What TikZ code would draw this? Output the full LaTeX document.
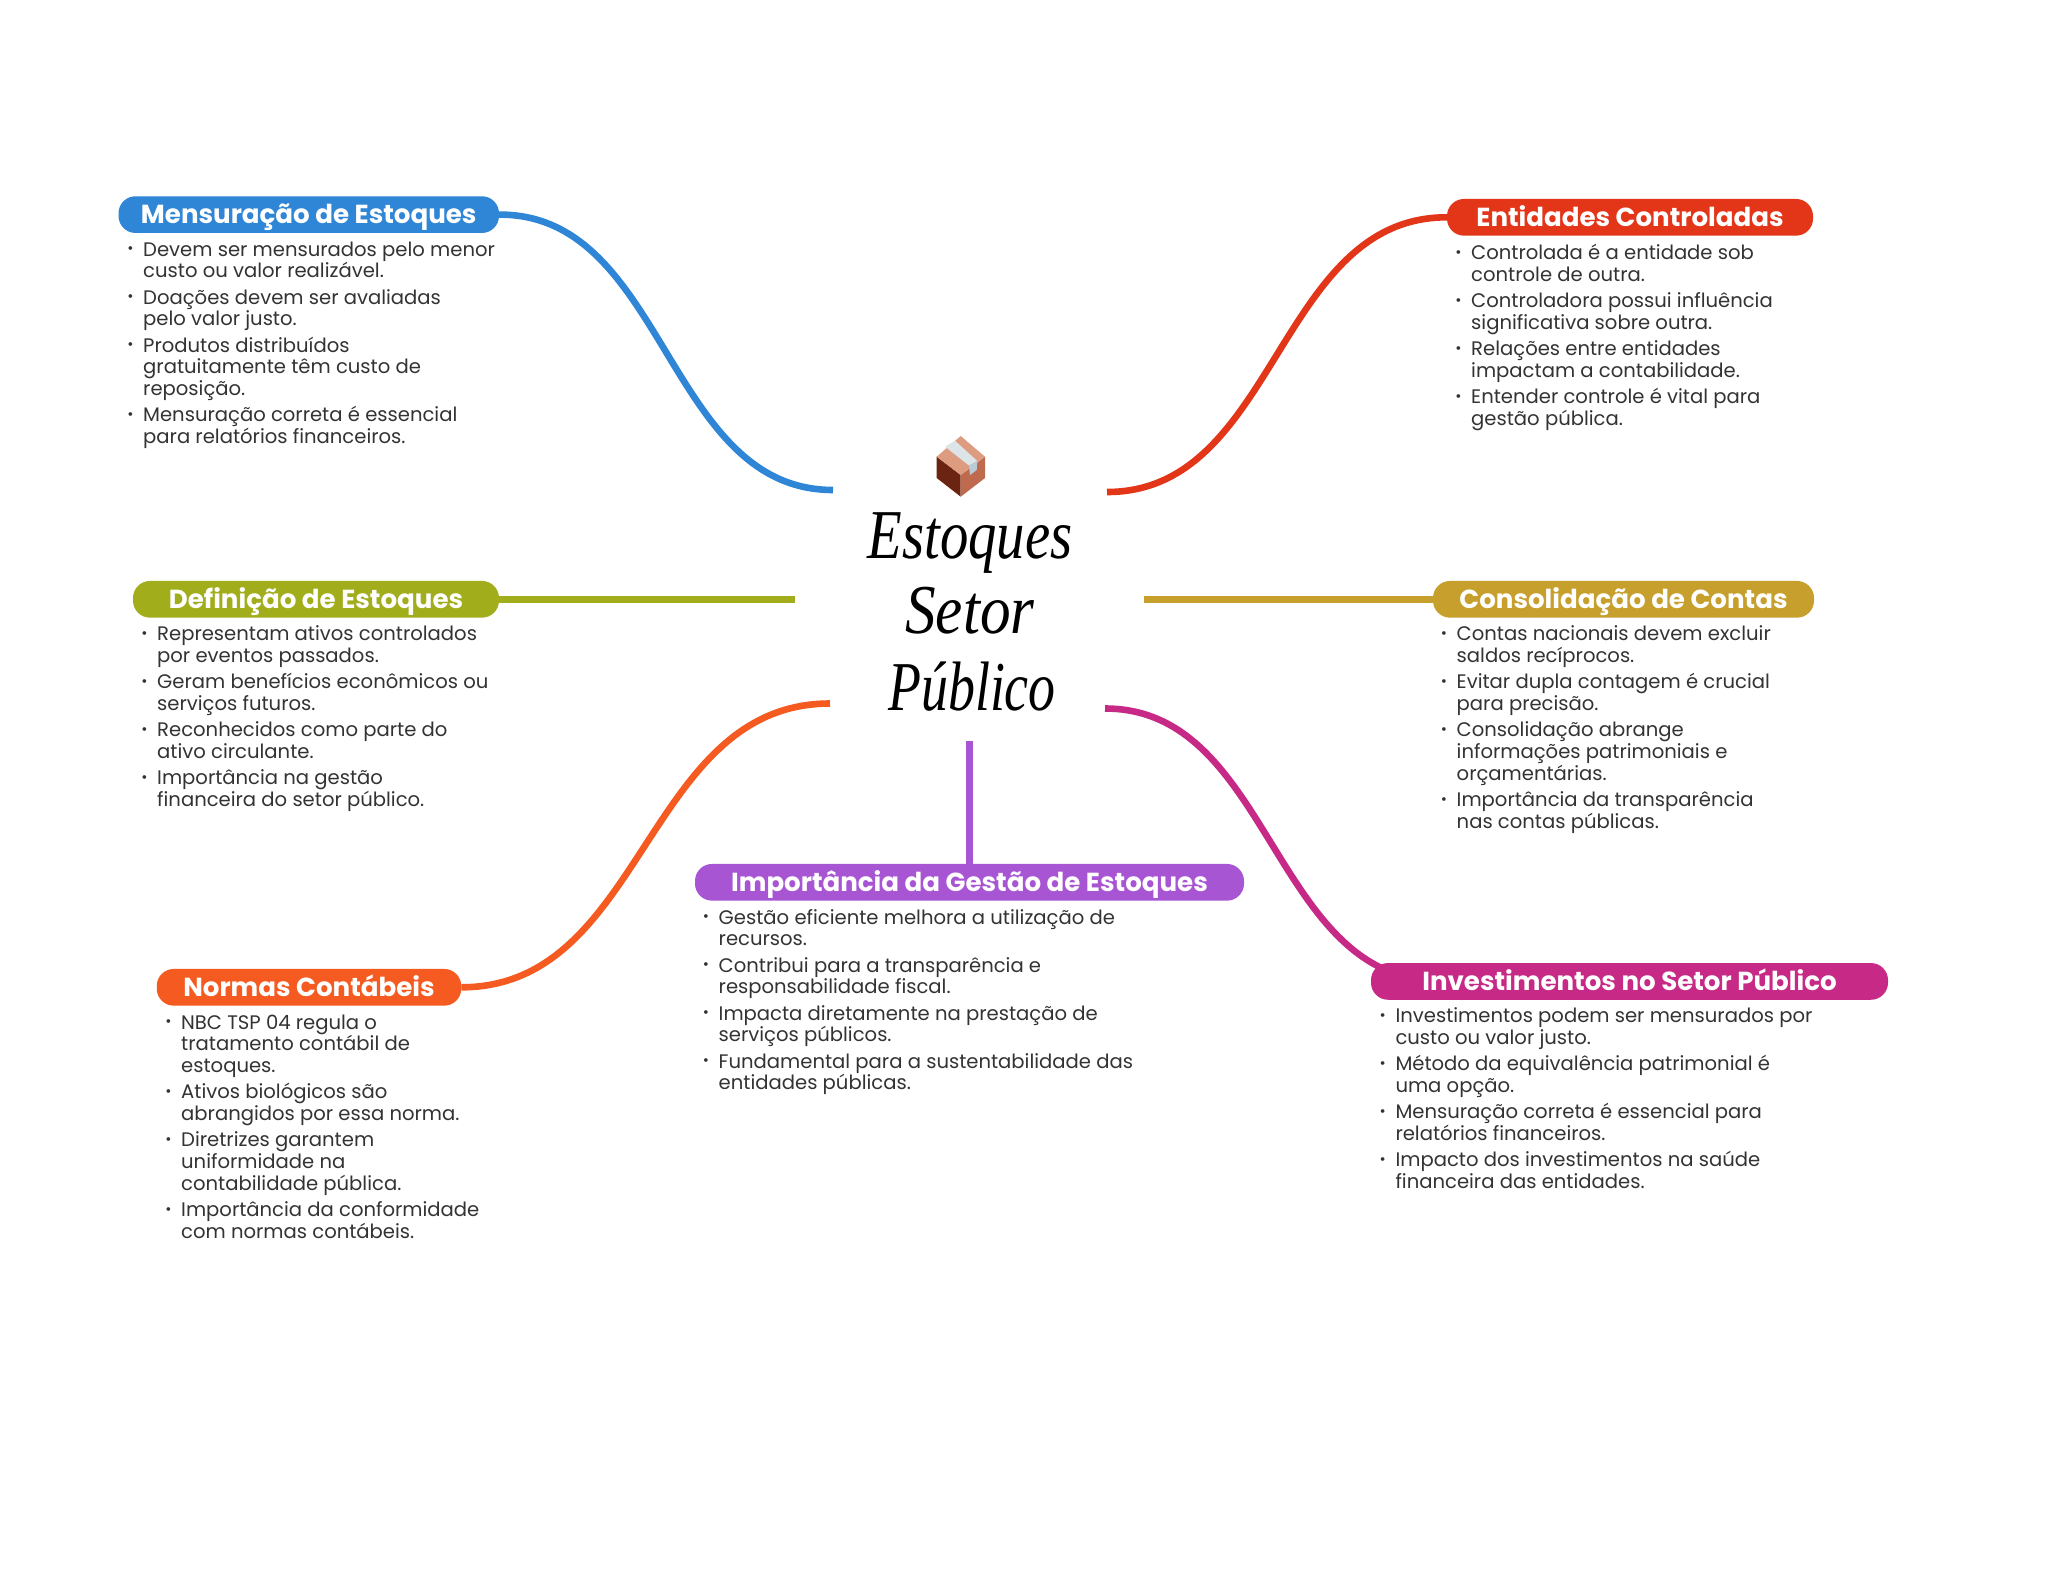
\documentclass[tikz,border=0pt]{standalone}
\usepackage{graphicx}
\usepackage{fontspec}
\setmainfont{Poppins}
\newfontfamily\titlef{Liberation Serif}
\usetikzlibrary{backgrounds}
\definecolor{cblue}{HTML}{2F86D6}
\definecolor{cgreen}{HTML}{A2AD1B}
\definecolor{corange}{HTML}{F55B20}
\definecolor{cpurple}{HTML}{A855D4}
\definecolor{cmag}{HTML}{C72A86}
\definecolor{cgold}{HTML}{C69F2D}
\definecolor{cred}{HTML}{E33518}
\definecolor{ctxt}{HTML}{333333}
\definecolor{boxdark}{RGB}{107,35,18}
\definecolor{boxright}{RGB}{191,106,79}
\definecolor{boxtop}{RGB}{221,156,128}
\definecolor{tapetop}{RGB}{221,228,232}
\definecolor{tapeside}{RGB}{185,204,214}
\AtBeginDocument{\lineskiplimit=-100pt\relax}
\newcommand{\bul}{\leavevmode\strut\llap{\raisebox{2.5pt}{\fontsize{15}{15}\selectfont •}\hspace{9.6pt}}}
\newcommand{\cnt}{\strut}
\newcommand{\gap}{\\[4.6pt]}
\tikzset{
  pill/.style={fill=#1,rounded corners=17pt,text=white,inner sep=0pt,minimum height=36.7pt,
    text height=20pt,text depth=2.6pt,font=\fontsize{26.1}{30}\selectfont\bfseries,align=center},
  bodytext/.style={anchor=north west,inner sep=0pt,yshift=15.19pt,align=left,text=ctxt,
    font=\fontsize{19.6}{21.7}\selectfont},
  link/.style={draw=#1,line width=6.6pt},
  titletext/.style={font=\fontsize{70}{70}\selectfont\titlef\itshape,text=black,inner sep=0pt,anchor=base}
}
\begin{document}
\begin{tikzpicture}[x=1pt,y=-1pt]
\useasboundingbox (0,0) rectangle (2048,1569);
\begin{scope}[on background layer]
\fill[white] (0,0) rectangle (2048,1569);
\end{scope}
% hub ends
\coordinate (hubBlue) at (833,490);
\coordinate (hubRed) at (1107,492);
\coordinate (hubGreen) at (795,599.3);
\coordinate (hubGold) at (1144,599.3);
\coordinate (hubOrange) at (830,703.5);
\coordinate (hubMag) at (1105,708.5);
\coordinate (hubPurple) at (969.5,741);
\coordinate (magEnd) at (1440,981);
% headings
\node[pill=cblue,minimum width=380.5pt] (mens) at (308.75,214.6) {Mensuração de Estoques};
\node[pill=cgreen,minimum width=366pt] (defi) at (316,599.3) {Definição de Estoques};
\node[pill=corange,minimum width=304.5pt] (norm) at (309,987.3) {Normas Contábeis};
\node[pill=cpurple,minimum width=549pt] (impo) at (969.5,882.3) {Importância da Gestão de Estoques};
\node[pill=cmag,minimum width=517pt] (inve) at (1629.5,981.4) {Investimentos no Setor Público};
\node[pill=cgold,minimum width=381pt] (cons) at (1623.5,599.3) {Consolidação de Contas};
\node[pill=cred,minimum width=366pt] (enti) at (1630,217.3) {Entidades Controladas};
% connectors
\begin{scope}[on background layer]
\draw[link=cblue] (mens.east) .. controls (666,214) and (666,490) .. (hubBlue);
\draw[link=cred] (enti.west) .. controls (1277,217) and (1277,492) .. (hubRed);
\draw[link=cgreen] (defi.east) -- (hubGreen);
\draw[link=cgold] (cons.west) -- (hubGold);
\draw[link=corange] (norm.east) .. controls (645,987) and (645,703.5) .. (hubOrange);
\draw[link=cmag] (hubMag) .. controls (1272,708.5) and (1272,981) .. (magEnd);
\draw[link=cpurple] (impo.north) -- (hubPurple);
\end{scope}
% bodies
\node[bodytext] (bmens) at (143,256) {\bul Devem ser mensurados pelo menor\\\cnt custo ou valor realizável.\gap
\bul Doações devem ser avaliadas\\\cnt pelo valor justo.\gap
\bul Produtos distribuídos\\\cnt gratuitamente têm custo de\\\cnt reposição.\gap
\bul Mensuração correta é essencial\\\cnt para relatórios financeiros.};
\node[bodytext] (bdefi) at (157,640.7) {\bul Representam ativos controlados\\\cnt por eventos passados.\gap
\bul Geram benefícios econômicos ou\\\cnt serviços futuros.\gap
\bul Reconhecidos como parte do\\\cnt ativo circulante.\gap
\bul Importância na gestão\\\cnt financeira do setor público.};
\node[bodytext] (bnorm) at (181,1029) {\bul NBC TSP 04 regula o\\\cnt tratamento contábil de\\\cnt estoques.\gap
\bul Ativos biológicos são\\\cnt abrangidos por essa norma.\gap
\bul Diretrizes garantem\\\cnt uniformidade na\\\cnt contabilidade pública.\gap
\bul Importância da conformidade\\\cnt com normas contábeis.};
\node[bodytext] (bimpo) at (718.5,924) {\bul Gestão eficiente melhora a utilização de\\\cnt recursos.\gap
\bul Contribui para a transparência e\\\cnt responsabilidade fiscal.\gap
\bul Impacta diretamente na prestação de\\\cnt serviços públicos.\gap
\bul Fundamental para a sustentabilidade das\\\cnt entidades públicas.};
\node[bodytext] (binve) at (1395.3,1022.7) {\bul Investimentos podem ser mensurados por\\\cnt custo ou valor justo.\gap
\bul Método da equivalência patrimonial é\\\cnt uma opção.\gap
\bul Mensuração correta é essencial para\\\cnt relatórios financeiros.\gap
\bul Impacto dos investimentos na saúde\\\cnt financeira das entidades.};
\node[bodytext] (bcons) at (1456.5,640.7) {\bul Contas nacionais devem excluir\\\cnt saldos recíprocos.\gap
\bul Evitar dupla contagem é crucial\\\cnt para precisão.\gap
\bul Consolidação abrange\\\cnt informações patrimoniais e\\\cnt orçamentárias.\gap
\bul Importância da transparência\\\cnt nas contas públicas.};
\node[bodytext] (benti) at (1471,259.3) {\bul Controlada é a entidade sob\\\cnt controle de outra.\gap
\bul Controladora possui influência\\\cnt significativa sobre outra.\gap
\bul Relações entre entidades\\\cnt impactam a contabilidade.\gap
\bul Entender controle é vital para\\\cnt gestão pública.};
% title
\node[titletext] (t1) at (970,558) {\scalebox{.81}[1]{Estoques}};
\node[titletext] (t2) at (970,633) {\scalebox{.875}[1]{Setor}};
\node[titletext] (t3) at (972,710) {\scalebox{.77}[1]{Público}};
% box icon
\fill[boxdark] (936.7,456.7) -- (960.7,475) -- (960.7,496.7) -- (936.7,478) -- cycle;
\fill[boxright] (985,456.7) -- (960.7,475) -- (960.7,496.7) -- (985,478) -- cycle;
\fill[boxtop] (960.7,436) -- (985,456.7) -- (960.7,475) -- (936.7,456.7) -- cycle;
\fill[tapetop] (945,446.7) -- (955,440.7) -- (977.3,461) -- (969,465.5) -- cycle;
\fill[tapeside] (969,465.5) -- (977.3,461) -- (976.7,470) -- (970,475) -- cycle;
\end{tikzpicture}
\end{document}
